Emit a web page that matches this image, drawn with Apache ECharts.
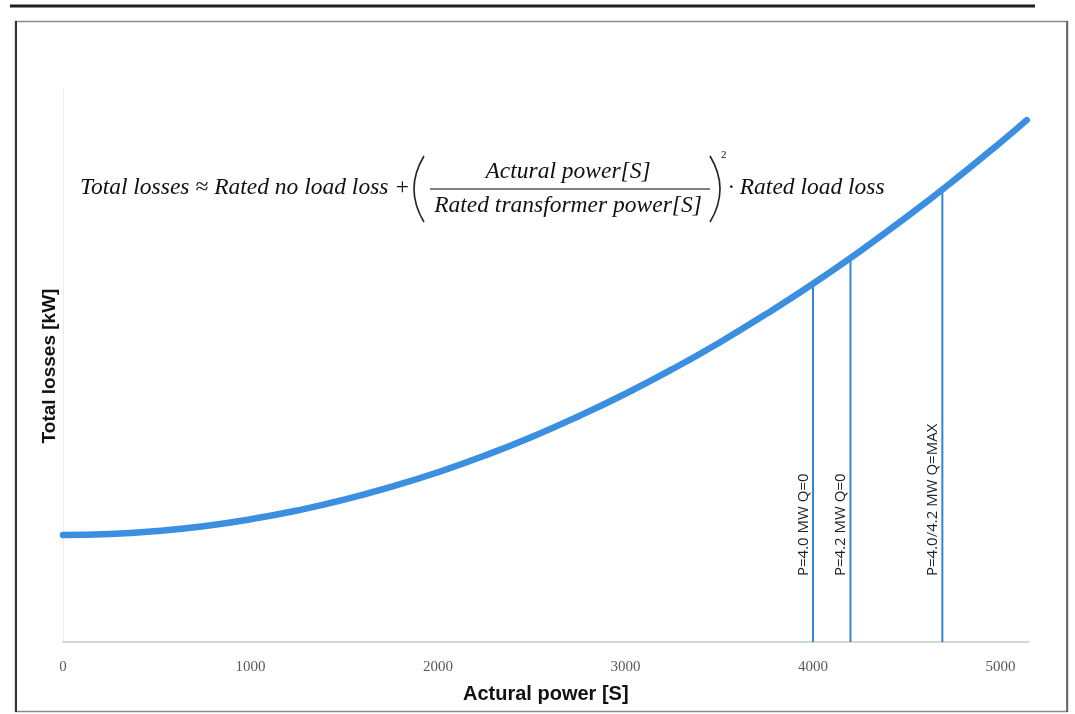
<!DOCTYPE html>
<html><head><meta charset="utf-8">
<script src="https://cdn.jsdelivr.net/npm/echarts@6/dist/echarts.min.js"></script>
<style>html,body{margin:0;padding:0;background:#fff}#c{width:1075px;height:714px}</style>
</head><body><div id="c"></div>
<script>
const powerS = [0,250,500,750,1000,1250,1500,1750,2000,2250,2500,2750,3000,3250,3500,3750,4000,4250,4500,4750,5000,5140];
const lossKW = [7.75,7.82,8.04,8.39,8.89,9.53,10.31,11.24,12.30,13.51,14.86,16.36,17.99,19.77,21.69,23.76,25.96,28.31,30.80,33.43,36.20,37.82];
// Vertical marker lines: x position, top value, label
const markerX = [4000, 4200, 4690];
const markerTop = [25.96, 27.83, 32.6];
const markerLabels = ['P=4.0 MW Q=0', 'P=4.2 MW Q=0', 'P=4.0/4.2 MW Q=MAX'];
const xTicks = [0,1000,2000,3000,4000,5000];

const chart = echarts.init(document.getElementById('c'));
const curve = powerS.map((x,i)=>[x, lossKW[i]]);
const blue = '#3a8fe0';
const series = [{
  type:'line', data: curve, smooth: true, symbol:'none',
  lineStyle:{color: blue, width: 6.5, cap:'round'}, z: 5
}];
markerX.forEach((x,i)=>{
  series.push({type:'line', data:[[x,0],[x,markerTop[i]]], symbol:'none',
    lineStyle:{color:'#2f86d8', width:2}, z:3});
});
chart.setOption({
  animation:false,
  grid:{left:63, top:90, width:965.6, height:552},
  xAxis:{type:'value', min:0, max:5150, interval:1000,
    axisLine:{show:true, lineStyle:{color:'#d6d6d6', width:2}},
    axisTick:{show:false}, splitLine:{show:false},
    axisLabel:{margin:18, color:'#5a5a5a', fontFamily:'Liberation Serif', fontSize:15,
      formatter:v=> xTicks.indexOf(v)>=0 ? String(v) : ''},
    name:'Actural power [S]', nameLocation:'middle', nameGap:42,
    nameTextStyle:{fontFamily:'Liberation Sans', fontWeight:'bold', fontSize:20, color:'#111'}
  },
  yAxis:{type:'value', min:0, max:40,
    axisLine:{show:true, lineStyle:{color:'#ececec', width:1}},
    axisTick:{show:false}, axisLabel:{show:false}, splitLine:{show:false},
    name:'Total losses [kW]', nameLocation:'middle', nameGap:4,
    nameTextStyle:{fontFamily:'Liberation Sans', fontWeight:'bold', fontSize:19, color:'#111'}
  },
  series: series
});

const g = [];
// top rule and frame
g.push({type:'line', shape:{x1:10,y1:6,x2:1035,y2:6}, style:{stroke:'#1e1e1e', lineWidth:3}});
g.push({type:'rect', shape:{x:15.5,y:21.5,width:1052,height:690}, style:{fill:null, stroke:'#8a8a8a', lineWidth:1.5}});
g.push({type:'line', shape:{x1:16,y1:21,x2:16,y2:712}, style:{stroke:'#333', lineWidth:2}});
g.push({type:'line', shape:{x1:1067,y1:21,x2:1067,y2:712}, style:{stroke:'#555', lineWidth:1.5}});
// marker labels
markerX.forEach((x,i)=>{
  const p = chart.convertToPixel({gridIndex:0}, [x, 5.0]);
  g.push({type:'text', x:p[0]-2, y:p[1]+3, rotation:Math.PI/2,
    style:{text:markerLabels[i], fontFamily:'Open Sans', fontSize:15, fill:'#222',
      textAlign:'left', textVerticalAlign:'bottom'}, z:10});
});
// formula
const serif = {fontFamily:'Liberation Serif', fontStyle:'italic', fontSize:23.5, fill:'#111'};
function txt(t,x,y,extra){ g.push({type:'text', x:x, y:y, style:Object.assign({text:t, textVerticalAlign:'middle'}, serif, extra||{}), z:10}); }
txt('Total losses \u2248 Rated no load loss +', 80, 188);
g.push({type:'bezierCurve', shape:{x1:424,y1:156,cpx1:404,cpy1:189,x2:424,y2:222}, style:{fill:null, stroke:'#222', lineWidth:1.6}, z:10});
txt('Actural power[S]', 568, 172, {textAlign:'center'});
g.push({type:'line', shape:{x1:430,y1:189,x2:710,y2:189}, style:{stroke:'#555', lineWidth:1.5}, z:10});
txt('Rated transformer power[S]', 568, 206, {textAlign:'center'});
g.push({type:'bezierCurve', shape:{x1:710,y1:156,cpx1:730,cpy1:189,x2:710,y2:222}, style:{fill:null, stroke:'#222', lineWidth:1.6}, z:10});
txt('2', 721, 155, {fontStyle:'normal', fontSize:11});
txt('\u00b7 Rated load loss', 728, 188);
chart.setOption({graphic:{elements:g}});
</script></body></html>
